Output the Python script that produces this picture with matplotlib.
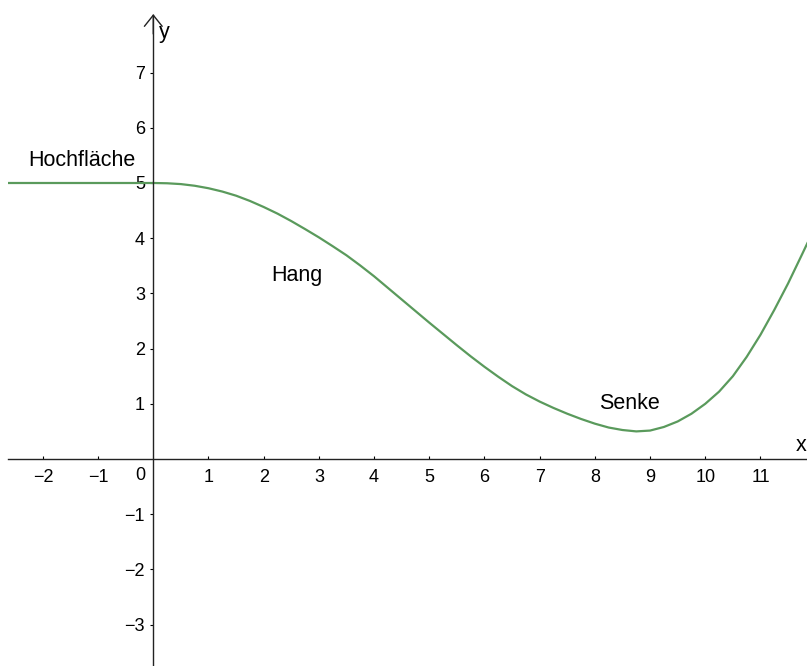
import matplotlib.pyplot as plt

# points (x, y)
plateau_x = [-2.63, 0.0]
plateau_y = [5.0, 5.0]
curve_x = [0.0, 0.25, 0.5, 0.75, 1.0, 1.25, 1.5, 1.75, 2.0, 2.25, 2.5, 2.75,
           3.0, 3.25, 3.5, 3.75, 4.0, 4.25, 4.5, 4.75, 5.0, 5.25, 5.5, 5.75,
           6.0, 6.25, 6.5, 6.75, 7.0, 7.25, 7.5, 7.75, 8.0, 8.25, 8.5, 8.75,
           9.0, 9.25, 9.5, 9.75, 10.0, 10.25, 10.5, 10.75, 11.0, 11.25, 11.5,
           11.75, 11.85]
curve_y = [5.0, 4.995, 4.98, 4.95, 4.905, 4.845, 4.77, 4.675, 4.565, 4.445, 4.31, 4.165,
           4.015, 3.855, 3.69, 3.505, 3.31, 3.10, 2.89, 2.68, 2.47, 2.265, 2.06, 1.86,
           1.67, 1.49, 1.32, 1.17, 1.04, 0.925, 0.82, 0.725, 0.64, 0.57, 0.525, 0.50,
           0.515, 0.58, 0.68, 0.82, 1.00, 1.22, 1.50, 1.85, 2.25, 2.70, 3.18,
           3.70, 3.91]
xticks = [-2, -1, 1, 2, 3, 4, 5, 6, 7, 8, 9, 10, 11]
yticks = [-3, -2, -1, 1, 2, 3, 4, 5, 6, 7]
labels = {"Hochfläche": (-1.3, 5.41), "Hang": (2.6, 3.32), "Senke": (8.63, 1.01)}

plt.rcParams['font.family'] = ['Liberation Sans', 'DejaVu Sans']

fig = plt.figure(figsize=(8.07, 6.66), dpi=100)
ax = fig.add_axes([0, 0, 1, 1])
ax.set_xlim(-2.777, 11.843)
ax.set_ylim(-3.75, 8.315)

green = '#5a9a5c'
ax.plot(plateau_x, plateau_y, color=green, lw=1.6, solid_capstyle='butt')
ax.plot(curve_x, curve_y, color=green, lw=1.6, solid_joinstyle='round')

for s in ['top', 'right']:
    ax.spines[s].set_visible(False)
ax.spines['left'].set_position(('data', 0))
ax.spines['bottom'].set_position(('data', 0))
ax.spines['bottom'].set_bounds(-2.63, 11.843)
ax.spines['left'].set_bounds(-3.75, 8.05)
for s in ['left', 'bottom']:
    ax.spines[s].set_linewidth(1.0)
    ax.spines[s].set_color('#222222')

# open arrow head at the top of the y axis
ax.annotate('', xy=(0, 8.06), xytext=(0, 7.7),
            arrowprops=dict(arrowstyle='->,head_length=0.5,head_width=0.4',
                            color='#222222', lw=1.0, mutation_scale=16,
                            shrinkA=0, shrinkB=0))

ax.set_xticks(xticks)
ax.set_xticklabels([str(t).replace('-', '\u2212') for t in xticks])
ax.set_yticks(yticks)
ax.set_yticklabels([str(t).replace('-', '\u2212') for t in yticks])
ax.tick_params(axis='x', direction='in', length=2, width=0.8, pad=7, labelsize=13)
ax.tick_params(axis='y', direction='out', length=2, width=0.8, pad=4, labelsize=13)

ax.text(-0.15, -0.3, '0', fontsize=13, ha='right', va='center')
ax.text(0.1, 7.72, 'y', fontsize=15.5, ha='left', va='center')
ax.text(11.83, 0.25, 'x', fontsize=15.5, ha='right', va='center')

for name, (lx, ly) in labels.items():
    ax.text(lx, ly, name, fontsize=15.5, ha='center', va='center')

fig.savefig('out.png', dpi=100)
